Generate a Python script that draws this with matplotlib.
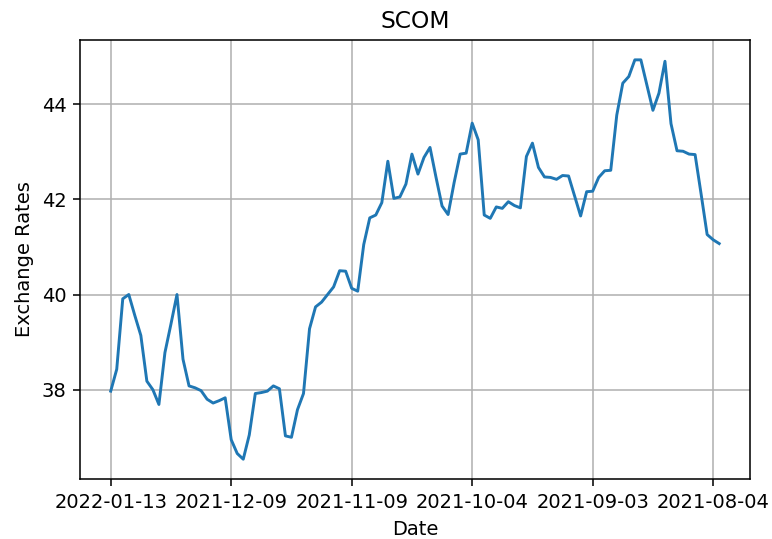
import matplotlib
matplotlib.use("Agg")
import matplotlib.pyplot as plt

# Exchange rates, newest first (index 0 = 2022-01-13)
rates = [
    37.97, 38.43, 39.91, 40.00, 39.56, 39.14, 38.18, 38.00, 37.69, 38.78,
    39.38, 40.00, 38.64, 38.08, 38.04, 37.98, 37.80, 37.72, 37.77, 37.83,
    36.95, 36.66, 36.54, 37.05, 37.92, 37.94, 37.97, 38.08, 38.02, 37.03,
    37.00, 37.58, 37.92, 39.28, 39.74, 39.84, 40.00, 40.16, 40.50, 40.49,
    40.13, 40.07, 41.05, 41.61, 41.67, 41.93, 42.80, 42.02, 42.05, 42.32,
    42.95, 42.53, 42.88, 43.09, 42.46, 41.86, 41.68, 42.35, 42.95, 42.97,
    43.60, 43.25, 41.67, 41.60, 41.84, 41.81, 41.95, 41.87, 41.82, 42.90,
    43.18, 42.67, 42.47, 42.46, 42.42, 42.50, 42.49, 42.07, 41.65, 42.16,
    42.17, 42.46, 42.60, 42.61, 43.77, 44.44, 44.58, 44.93, 44.93, 44.40,
    43.87, 44.23, 44.90, 43.59, 43.02, 43.01, 42.95, 42.94, 42.11, 41.26,
    41.15, 41.07,
]

tick_pos = [0, 20, 40, 60, 80, 100]
tick_labels = ["2022-01-13", "2021-12-09", "2021-11-09",
               "2021-10-04", "2021-09-03", "2021-08-04"]

dpi = 140
fig, ax = plt.subplots(figsize=(772 / dpi, 539 / dpi), dpi=dpi)
ax.plot(range(len(rates)), rates)
ax.set_xticks(tick_pos)
ax.set_xticklabels(tick_labels)
ax.set_yticks([38, 40, 42, 44])
ax.set_title("SCOM")
ax.set_xlabel("Date")
ax.set_ylabel("Exchange Rates")
ax.grid(True)

fig.subplots_adjust(left=0.104, right=0.971, top=0.926, bottom=0.111)
fig.savefig("out.png")
